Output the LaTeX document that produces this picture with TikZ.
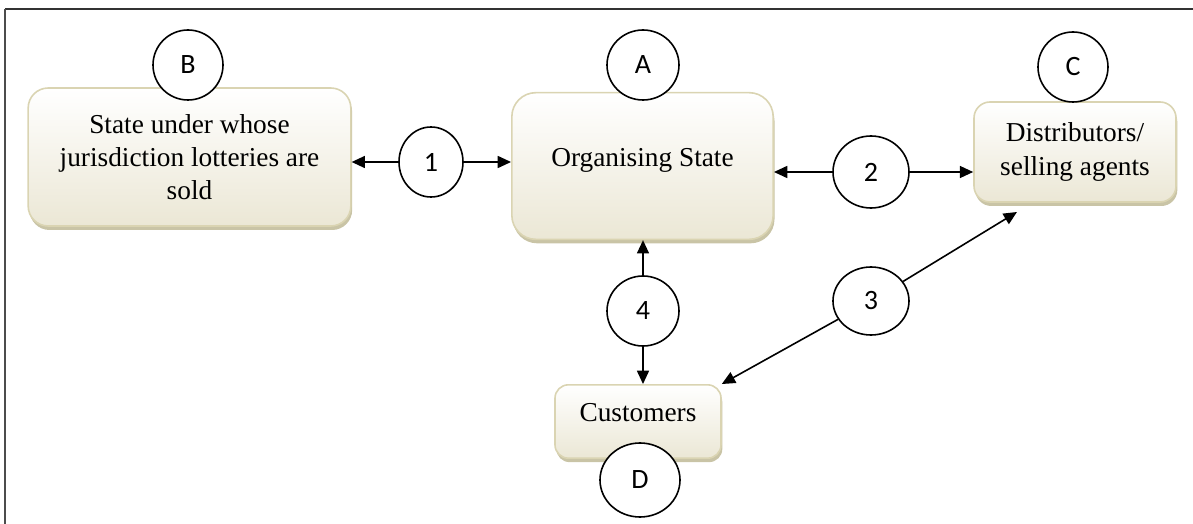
\documentclass[tikz,border=0pt]{standalone}
\usepackage{fontspec}
\setmainfont{Liberation Serif}
\newfontfamily\numfont{Carlito}
\usepackage{tikz}
\usetikzlibrary{arrows.meta,shadows,shapes.geometric}
\definecolor{boxline}{HTML}{DAD4B2}
\definecolor{boxbot}{HTML}{EBE7D5}
\definecolor{boxshade}{HTML}{C9C4A6}

\begin{document}
\begin{tikzpicture}[x=0.75pt, y=-0.75pt,
	box/.style={draw=boxline, line width=1.2pt, top color=white, bottom color=boxbot,
		align=center, font=\fontsize{20.5}{25}\selectfont,
		drop shadow={shadow xshift=1pt, shadow yshift=-3pt, fill=boxshade, opacity=1}},
	tag/.style={ellipse, draw, fill=white, line width=1.2pt, inner sep=0pt,
		font=\numfont\fontsize{21}{22}\selectfont},
	link/.style={line width=1.2pt, -{Triangle[length=10pt,width=9pt]}}]
			\useasboundingbox (0,0) rectangle (1193,524);
			
			% Рамка (только верх и левая сторона)
			\draw[line width=0.8pt, black!80] (5,9) -- (1193,9);
			\draw[line width=1.5pt, black!70] (5,9) -- (5,524);
			
			% Блоки
			\node[box, rounded corners=15pt, minimum width=242pt, minimum height=103.5pt] (sB) at (189.5,157)
				{State under whose\\ jurisdiction lotteries are\\ sold};
			\node[box, rounded corners=18pt, minimum width=196pt, minimum height=110pt, text depth=13pt] (sA) at (642.5,166)
				{Organising State};
			\node[box, rounded corners=12pt, minimum width=151.5pt, minimum height=75pt] (sC) at (1075,152)
				{Distributors/\\ selling agents};
			\node[box, rounded corners=10pt, minimum width=124.5pt, minimum height=55pt, text depth=13pt] (sD) at (638,421.5)
				{Customers};
			
			% Буквы над блоками
			\node[tag, minimum width=52.5pt, minimum height=52.5pt] (cB) at (188,65) {B};
			\node[tag, minimum width=54pt, minimum height=52.5pt] (cA) at (643,65) {A};
			\node[tag, minimum width=52.5pt, minimum height=52.5pt] (cC) at (1073,67) {C};
			\node[tag, minimum width=60pt, minimum height=55.5pt] (cD) at (640,480) {D};
			
			% Номера связей
			\node[tag, minimum width=48pt, minimum height=52.5pt] (c1) at (431,162) {1};
			\node[tag, minimum width=57pt, minimum height=54pt] (c2) at (871,172) {2};
			\node[tag, minimum width=57pt, minimum height=51pt] (c3) at (871,301) {3};
			\node[tag, minimum width=54pt, minimum height=52.5pt] (c4) at (643,311) {4};
			
			% Стрелки
			\coordinate (tC) at (1017,212);
			\draw[link] (c1) -- (c1 -| sB.east);
			\draw[link] (c1) -- (c1 -| sA.west);
			\draw[link] (c2.west) -- (c2.west -| sA.east);
			\draw[link] (c2) -- (c2 -| sC.west);
			\draw[link] (c4) -- (c4 |- sA.south);
			\draw[link] (c4) -- (c4 |- sD.north);
			\draw[link] (c3) -- (sD.north east);
			\draw[link] (c3) -- (tC);
		\end{tikzpicture}
\end{document}
